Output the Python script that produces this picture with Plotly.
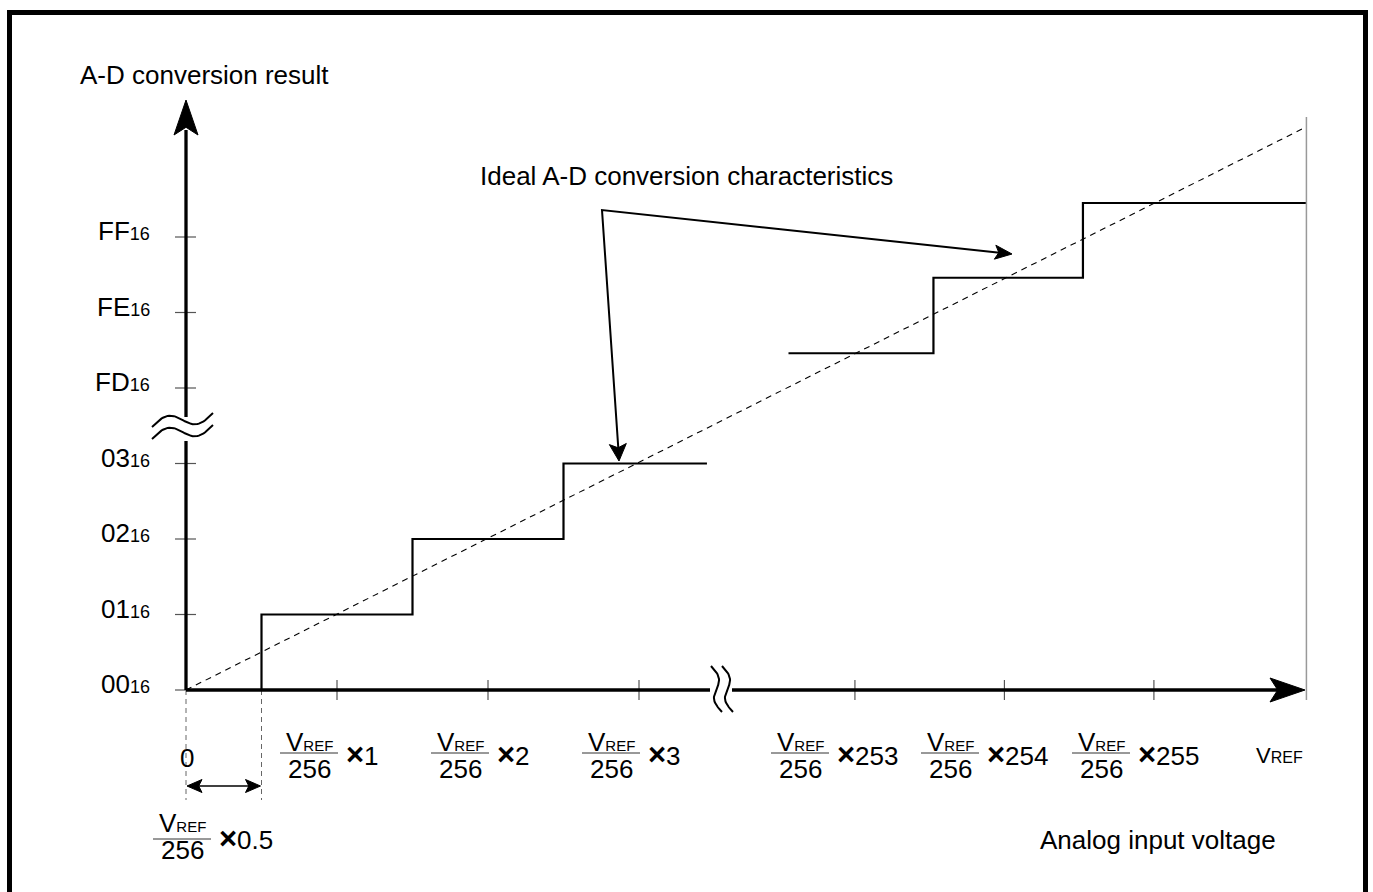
import numpy as np
import plotly.graph_objects as go

W, H = 1373, 892
# where the drawing's origin sits and how many pixels one step takes
X0, Y0 = 186, 690
SX, SY = 151, 75.5
FONT = "Liberation Sans, Arial, sans-serif"

# ---- data (display units: one code / one LSB per unit, axes broken after 3) ----
y_codes = ["00", "01", "02", "03", "FD", "FE", "FF"]
y_code_pos = [0, 1, 2, 3, 4, 5, 6]

x_mult = ["1", "2", "3", "253", "254", "255"]
x_mult_pos = [1, 2, 3, 4.43, 5.42, 6.41]
half_lsb_pos = 0.5
vref_pos = 7.42

low_step_x = [0, 0.5, 0.5, 1.5, 1.5, 2.5, 2.5, 3.45]
low_step_y = [0, 0, 1, 1, 2, 2, 3, 3]
high_step_x = [3.99, 4.95, 4.95, 5.94, 5.94, 7.42]
high_step_y = [4.46, 4.46, 5.46, 5.46, 6.45, 6.45]

ideal_x = [0, 7.42]
ideal_y = [0, 7.46]


def ux(px):
    return (px - X0) / SX


def vy(py):
    return (Y0 - py) / SY


def to_u(x):
    return X0 + x * SX


def to_v(y):
    return Y0 - y * SY


def head(tip, tail, length, half, notch=0.22):
    # arrow head polygon in pixel space -> data units
    tip = np.array(tip, float)
    d = tip - np.array(tail, float)
    d /= np.hypot(*d)
    n = np.array([-d[1], d[0]])
    base = tip - d * length
    pts = [tip, base + n * half, tip - d * length * (1 - notch), base - n * half, tip]
    return [ux(p[0]) for p in pts], [vy(p[1]) for p in pts]


fig = go.Figure()

# ideal characteristic
fig.add_trace(go.Scatter(x=ideal_x, y=ideal_y, mode="lines",
                         line=dict(color="black", width=1.1, dash="6px,5px")))

# conversion steps
for sx, sy in [(low_step_x, low_step_y), (high_step_x, high_step_y)]:
    fig.add_trace(go.Scatter(x=sx, y=sy, mode="lines",
                             line=dict(color="black", width=2.2)))

# tick marks
tx, ty = [], []
for p in y_code_pos:
    tx += [ux(175), ux(196), None]
    ty += [p, p, None]
for p in x_mult_pos:
    tx += [p, p, None]
    ty += [vy(680), vy(700), None]
fig.add_trace(go.Scatter(x=tx, y=ty, mode="lines", line=dict(color="#555", width=1.2)))

# thin grey limit line at VREF
fig.add_trace(go.Scatter(x=[vref_pos, vref_pos], y=[vy(700), vy(117)], mode="lines",
                         line=dict(color="#999", width=1.5)))

# dashed guides below the axis
fig.add_trace(go.Scatter(x=[0, 0, None, half_lsb_pos, half_lsb_pos],
                         y=[0, vy(800), None, 0, vy(800)], mode="lines",
                         line=dict(color="#666", width=1, dash="5px,4px")))

# axes (broken)
ax_x = [0, 0, None, 0, 0, None, 0, ux(710), None, ux(732), ux(1280)]
ax_y = [0, vy(441), None, vy(417), vy(130), None, 0, 0, None, 0, 0]
fig.add_trace(go.Scatter(x=ax_x, y=ax_y, mode="lines", line=dict(color="black", width=3.3)))

# break marks
t = np.linspace(0, 1, 40)
for off in [0, 12]:
    fig.add_trace(go.Scatter(x=ux(152 + 61 * t), y=vy(427 + off - 14 * t - 7.5 * np.sin(2 * np.pi * t)),
                             mode="lines", line=dict(color="black", width=2)))
for x0 in [711, 722]:
    fig.add_trace(go.Scatter(x=ux(x0 + 11 * t + 5 * np.sin(2 * np.pi * t)), y=vy(666 + 46 * t),
                             mode="lines", line=dict(color="black", width=2)))

# pointer lines from the caption
src = (602, 210)
tip_r, tip_d = (1012, 254), (619, 461)
fig.add_trace(go.Scatter(x=[ux(tip_r[0] - 10), ux(src[0]), ux(tip_d[0] - 0.5)],
                         y=[vy(tip_r[1] - 1), vy(src[1]), vy(tip_d[1] - 10)],
                         mode="lines", line=dict(color="black", width=2)))

# double arrow for half LSB
fig.add_trace(go.Scatter(x=[0.05, half_lsb_pos - 0.05], y=[vy(786), vy(786)], mode="lines",
                         line=dict(color="black", width=1.6)))

heads = [
    head((186, 100), (186, 690), 35, 12),
    head((1305, 690), (186, 690), 35, 12),
    head(tip_r, src, 17, 7),
    head(tip_d, src, 17, 8.5),
    head((to_u(0) + 1, 786), (to_u(half_lsb_pos), 786), 15, 6.5),
    head((to_u(half_lsb_pos) - 1, 786), (to_u(0), 786), 15, 6.5),
]
for hx, hy in heads:
    fig.add_trace(go.Scatter(x=hx, y=hy, mode="lines", fill="toself", fillcolor="black",
                             line=dict(color="black", width=1)))

# fraction bars
bx, by = [], []
frac_centers = [309, 460, 611, 800, 950, 1101]
for c in frac_centers + [182]:
    b = 839 if c == 182 else 753
    bx += [ux(c - 29), ux(c + 29), None]
    by += [vy(b), vy(b), None]
fig.add_trace(go.Scatter(x=bx, y=by, mode="lines", line=dict(color="#333", width=1)))

ann = []


def txt(px, py, text, size=26, xanchor="center"):
    ann.append(dict(x=ux(px), y=vy(py), text=text, showarrow=False, xanchor=xanchor,
                    yanchor="middle", font=dict(size=size, color="black", family=FONT)))


sub16 = '<span style="font-size:18px">16</span>'
vref_small = 'V<span style="font-size:15px">REF</span>'
times = '<span style="font-size:31px"><b>\u00d7</b></span>'

txt(204, 75, "A-D conversion result")
txt(686, 176, "Ideal A-D conversion characteristics")
txt(1158, 840, "Analog input voltage")

for code, p in zip(y_codes, y_code_pos):
    txt(152, to_v(p) - 6, code + sub16, xanchor="right")

txt(187, 758, "0")
txt(1279, 755, 'V<span style="font-size:16px">REF</span>', size=22)

for c, m in zip(frac_centers, x_mult):
    txt(c, 742, vref_small)
    txt(c, 769, "256")
    txt(c + 35, 754, times + m, xanchor="left")

txt(182, 823, vref_small)
txt(182, 850, "256")
txt(217, 838, times + "0.5", xanchor="left")

fig.update_layout(
    width=W, height=H,
    margin=dict(l=0, r=0, t=0, b=0),
    paper_bgcolor="white", plot_bgcolor="white",
    showlegend=False, hovermode=False,
    xaxis=dict(range=[ux(0), ux(W)], visible=False, fixedrange=True),
    yaxis=dict(range=[vy(H), vy(0)], visible=False, fixedrange=True),
    annotations=ann,
    shapes=[dict(type="rect", xref="paper", yref="paper",
                 x0=9.5 / W, x1=1365.5 / W, y0=1 - 905 / H, y1=1 - 12.5 / H,
                 line=dict(color="black", width=5))],
)

fig.write_html("out.html", config={"displayModeBar": False},
               post_script="document.body.style.margin='0';")
